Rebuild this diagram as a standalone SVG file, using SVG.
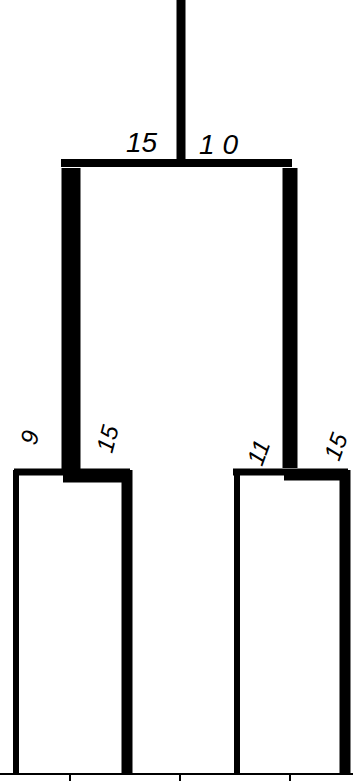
<svg xmlns="http://www.w3.org/2000/svg" width="353" height="781" viewBox="0 0 353 781">
<style>
.e{stroke:#000;fill:none;stroke-linecap:butt;stroke-linejoin:miter}
.t{font-family:"Liberation Sans",Arial,sans-serif;font-style:italic;font-size:28px;fill:#000}
.r{font-family:"Liberation Sans",Arial,sans-serif;font-style:italic;font-size:24px;fill:#000}
</style>
<rect width="353" height="781" fill="#fff"/>
<g id="connectors">
  <path class="e" d="M181 0 V166" stroke-width="9"/>
  <path class="e" d="M61 163 H292" stroke-width="8"/>
  <path class="e" d="M71 168 V470" stroke-width="19"/>
  <path class="e" d="M290 168 V468" stroke-width="15"/>
  <path class="e" d="M14 472 H130" stroke-width="7"/>
  <path class="e" d="M63 478 H128" stroke-width="9"/>
  <path class="e" d="M16 470 V774" stroke-width="6"/>
  <path class="e" d="M127 470 V774" stroke-width="11"/>
  <path class="e" d="M233 472 H348" stroke-width="7"/>
  <path class="e" d="M284 476 H345" stroke-width="9"/>
  <path class="e" d="M237 470 V774" stroke-width="6"/>
  <path class="e" d="M345 470 V774" stroke-width="11"/>
  <path class="e" d="M0 774 H353" stroke-width="2"/>
  <path class="e" d="M70 774 V781 M180 774 V781 M290 774 V781" stroke-width="2"/>
</g>
<g id="root-labels">
  <text class="t" x="126" y="152">15</text>
  <text class="t" x="199" y="154" letter-spacing="8">10</text>
</g>
<g id="left-labels">
  <text class="r" transform="translate(36 446) rotate(-75)">9</text>
  <text class="r" transform="translate(112 454) rotate(-75)">15</text>
</g>
<g id="right-labels">
  <text class="r" transform="translate(262 467) rotate(-70)">11</text>
  <text class="r" transform="translate(339 462) rotate(-70)">15</text>
</g>
</svg>
